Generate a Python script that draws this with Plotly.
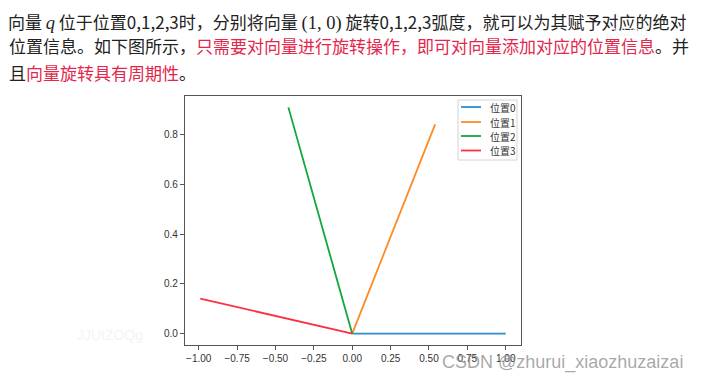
import plotly.graph_objects as go

# ---- data ----
series_names = ["位置0", "位置1", "位置2", "位置3"]
x_end = [1.0, 0.54, -0.416, -0.99]
y_end = [0.0, 0.841, 0.909, 0.141]
colors = ["#2b8fd0", "#ff8a24", "#10a83a", "#ff2d3f"]
x_ticks = [-1.0, -0.75, -0.5, -0.25, 0.0, 0.25, 0.5, 0.75, 1.0]
y_ticks = [0.0, 0.2, 0.4, 0.6, 0.8]

OFF = 8  # default page body margin
W_FIG, H_FIG = 703 - OFF, 382 - OFF
# plot area in page pixels: x 185..521, y 96..345
L = 185 - OFF
T = 96 - OFF
R = W_FIG - (521 - OFF)
B = H_FIG - (345 - OFF)
PW = W_FIG - L - R
PH = H_FIG - T - B


def px(x):  # page pixel -> paper
    return (x - OFF - L) / PW


def py(y):
    return (H_FIG - B - (y - OFF)) / PH


fig = go.Figure()
for name, xe, ye, c in zip(series_names, x_end, y_end, colors):
    fig.add_trace(go.Scatter(x=[0, xe], y=[0, ye], mode="lines", name=name,
                             line=dict(color=c, width=1.8), showlegend=False))

axis_common = dict(showline=True, mirror=True, linecolor="#555", linewidth=1.4,
                   ticks="outside", ticklen=4, tickwidth=1, tickcolor="#555",
                   showgrid=False, zeroline=False,
                   tickfont=dict(family="Liberation Sans, Arial", size=10, color="#333"))

fig.update_xaxes(range=[-1.0895, 1.0995], tickvals=x_ticks, tickformat=".2f", **axis_common)
fig.update_yaxes(range=[-0.0455, 0.9547], tickvals=y_ticks, tickformat=".1f", **axis_common)

RED = "#e4264b"
DARK = "#222222"
MATH = "font-family:'Liberation Serif', serif;font-size:18.5px"
line1 = (f"向量 <span style=\"{MATH}\"><i>q</i></span> 位于位置0,1,2,3时，分别将向量 "
         f"<span style=\"{MATH}\">(1, 0)</span> 旋转0,1,2,3弧度，就可以为其赋予对应的绝对")
line2 = (f"位置信息。如下图所示，<span style=\"color:{RED}\">只需要对向量进行旋转操作，"
         f"即可对向量添加对应的位置信息</span>。并")
line3 = f"且<span style=\"color:{RED}\">向量旋转具有周期性</span>。"

annos = []
# first line pinned to the top edge so its box stays inside the figure
annos.append(dict(text=line1, x=px(7), y=py(OFF), xref="paper", yref="paper",
                  xanchor="left", yanchor="top", showarrow=False, align="left",
                  borderpad=0,
                  font=dict(family="Noto Sans CJK SC", size=17, color=DARK)))
for txt, yy in [(line2, 46), (line3, 73)]:
    annos.append(dict(text=txt, x=px(7), y=py(yy), xref="paper", yref="paper",
                      xanchor="left", yanchor="middle", showarrow=False, align="left",
                      font=dict(family="Noto Sans CJK SC", size=17, color=DARK)))

annos.append(dict(text="CSDN @zhurui_xiaozhuzaizai", x=px(440), y=py(362),
                  xref="paper", yref="paper", xanchor="left", yanchor="middle",
                  showarrow=False,
                  font=dict(family="Liberation Sans, Arial", size=18, color="rgba(140,140,140,0.75)")))
annos.append(dict(text="JJUIZOQg", x=px(75), y=py(335), xref="paper", yref="paper",
                  xanchor="left", yanchor="middle", showarrow=False,
                  font=dict(family="Liberation Sans", size=14, color="#f4f4f4")))
annos.append(dict(text="JJUIZOQ", x=px(604), y=py(33), xref="paper", yref="paper",
                  xanchor="left", yanchor="middle", showarrow=False,
                  font=dict(family="Liberation Sans", size=10, color="#f6f6f6")))

# ---- legend drawn to match matplotlib's compact layout ----
shapes = [dict(type="rect", xref="paper", yref="paper",
               x0=px(458), x1=px(517), y0=py(160), y1=py(100),
               line=dict(color="#d4d4d4", width=1), fillcolor="white", layer="above")]
leg_y = [107, 122, 136, 150.5]
for name, c, yy in zip(series_names, colors, leg_y):
    shapes.append(dict(type="line", xref="paper", yref="paper",
                       x0=px(461), x1=px(481), y0=py(yy), y1=py(yy),
                       line=dict(color=c, width=1.8), layer="above"))
    annos.append(dict(text=name, x=px(488), y=py(yy), xref="paper", yref="paper",
                      xanchor="left", yanchor="middle", showarrow=False,
                      font=dict(family="Noto Sans CJK SC", size=10, color="#333")))

fig.update_layout(
    width=W_FIG, height=H_FIG,
    margin=dict(l=L, r=R, t=T, b=B, pad=0),
    paper_bgcolor="white", plot_bgcolor="white",
    annotations=annos, shapes=shapes,
    showlegend=False,
)

fig.write_html("out.html")
